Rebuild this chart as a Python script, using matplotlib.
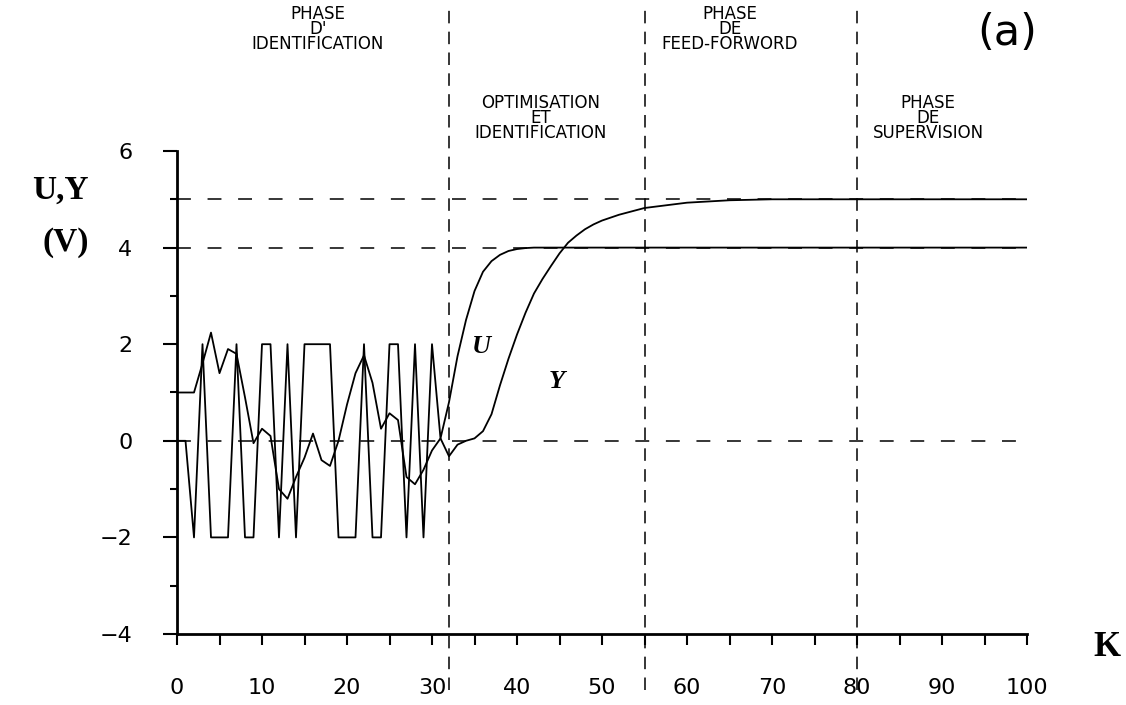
import matplotlib
matplotlib.use("Agg")
import matplotlib.pyplot as plt
from matplotlib.ticker import MultipleLocator, FixedLocator

plt.rcParams['lines.scale_dashes'] = False

W, H = 1126, 705

# ---- data -------------------------------------------------------------
k_samples = list(range(0, 51)) + [52, 55, 60, 65, 70, 80, 90, 100]

u_values = [0, 0, -2, 2, -2, -2, -2, 2, -2, -2,
            2, 2, -2, 2, -2, 2, 2, 2, 2, -2,
            -2, -2, 2, -2, -2, 2, 2, -2, 2, -2,
            2, 0.05, 0.8, 1.75, 2.5, 3.1, 3.5, 3.72, 3.85, 3.93,
            3.97, 3.99, 4.0, 4.0, 4.0, 4.0, 4.0, 4.0, 4.0, 4.0,
            4.0,
            4.0, 4.0, 4.0, 4.0, 4.0, 4.0, 4.0, 4.0]

y_values = [1.0, 1.0, 1.0, 1.6, 2.24, 1.4, 1.9, 1.8, 0.9, -0.05,
            0.25, 0.1, -1.0, -1.2, -0.75, -0.35, 0.15, -0.4, -0.52, 0.0,
            0.75, 1.4, 1.77, 1.2, 0.25, 0.57, 0.43, -0.75, -0.9, -0.6,
            -0.2, 0.05, -0.32, -0.08, 0.0, 0.05, 0.2, 0.55, 1.15, 1.7,
            2.2, 2.65, 3.05, 3.35, 3.62, 3.88, 4.1, 4.25, 4.38, 4.48,
            4.56,
            4.68, 4.82, 4.93, 4.98, 5.0, 5.0, 5.0, 5.0]

phase_bounds = [32, 55, 80]
ref_levels = [0, 4, 5]

x_ticks = [0, 10, 20, 30, 40, 50, 60, 70, 80, 90, 100]
y_ticks = [-4, -2, 0, 2, 4, 6]

phase_labels = [
    "PHASE\nD'\nIDENTIFICATION",
    "OPTIMISATION\nET\nIDENTIFICATION",
    "PHASE\nDE\nFEED-FORWORD",
    "PHASE\nDE\nSUPERVISION",
]
phase_label_pos = [(318, 29), (541, 118), (730, 29), (928, 118)]

# ---- figure -----------------------------------------------------------
fig = plt.figure(figsize=(W / 100, H / 100), dpi=100)
fig.patch.set_facecolor("white")

left, right = 177 / W, 1027 / W
bottom, top = (H - 634) / H, (H - 151) / H
ax = fig.add_axes([left, bottom, right - left, top - bottom])
ax.set_xlim(0, 100)
ax.set_ylim(-4, 6)

for s in ("top", "right"):
    ax.spines[s].set_visible(False)
for s in ("left", "bottom"):
    ax.spines[s].set_linewidth(2.0)
    ax.spines[s].set_color("black")

# reference dashed lines
for lvl in ref_levels:
    ax.axhline(lvl, color="black", lw=1.1, dashes=(10, 12), zorder=1)

for b in phase_bounds:
    ax.axvline(b, ymin=-0.115, ymax=1.303, color="black", lw=1.1,
               dashes=(9, 6), clip_on=False, zorder=1)

# curves
ax.plot(k_samples, u_values, color="black", lw=1.3, zorder=3)
ax.plot(k_samples, y_values, color="black", lw=1.3, zorder=3)

# ticks
ax.xaxis.set_major_locator(FixedLocator(x_ticks))
ax.xaxis.set_minor_locator(MultipleLocator(5))
ax.yaxis.set_major_locator(FixedLocator(y_ticks))
ax.yaxis.set_minor_locator(MultipleLocator(1))
ax.tick_params(axis="x", which="both", direction="out", length=8, width=1.5,
               pad=24, labelsize=16)
ax.tick_params(axis="y", which="major", direction="out", length=10, width=1.5,
               pad=22, labelsize=16)
ax.tick_params(axis="y", which="minor", direction="out", length=5, width=1.5)

serif = ["Liberation Serif", "DejaVu Serif"]


def ftext(px, py, s, **kw):
    fig.text(px / W, 1 - py / H, s, ha="center", va="center", **kw)


ftext(481, 346, "U", family=serif, style="italic", weight="bold", fontsize=19)
ftext(557, 382, "Y", family=serif, style="italic", weight="bold", fontsize=19)

for s, (px, py) in zip(phase_labels, phase_label_pos):
    ftext(px, py, s, fontsize=12, family="DejaVu Sans",
          multialignment="center", linespacing=0.8)

ftext(1007, 33, "(a)", fontsize=31, family="DejaVu Sans")
ftext(60, 190, "U,Y", fontsize=24, family=serif, weight="bold")
ftext(66, 243, "(V)", fontsize=24, family=serif, weight="bold")
ftext(1107, 648, "K", fontsize=25, family=serif, weight="bold")

fig.savefig("out.png", dpi=100, facecolor="white")
